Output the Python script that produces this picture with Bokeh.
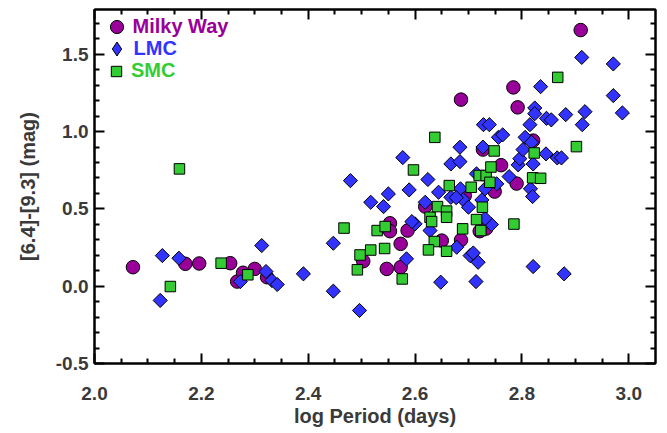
import math
from bokeh.plotting import figure
from bokeh.models import Range1d, LinearAxis, FixedTicker, Legend, LegendItem
from bokeh.embed import file_html
from bokeh.resources import INLINE

# ---- data ----
mw_logp = [2.072, 2.170, 2.196, 2.254, 2.267, 2.278, 2.300, 2.323, 2.503, 2.547,
           2.573, 2.553, 2.553, 2.586, 2.573, 2.619, 2.650, 2.686, 2.721, 2.733,
           2.693, 2.727, 2.749, 2.761, 2.790, 2.821, 2.686, 2.784, 2.792, 2.910]
mw_color = [0.123, 0.145, 0.147, 0.149, 0.030, 0.087, 0.112, 0.058, 0.162, 0.112,
            0.123, 0.407, 0.356, 0.360, 0.274, 0.515, 0.295, 0.299, 0.356, 0.373,
            0.586, 0.884, 0.612, 0.783, 0.664, 0.942, 1.207, 1.286, 1.157, 1.657]

lmc_logp = [2.127, 2.123, 2.158, 2.313, 2.273, 2.321, 2.332, 2.342, 2.391, 2.447,
            2.447, 2.496, 2.479, 2.517, 2.550, 2.541, 2.577, 2.589, 2.624, 2.619,
            2.644, 2.667, 2.684, 2.684, 2.667, 2.685, 2.690, 2.700, 2.725, 2.715,
            2.727, 2.728, 2.739, 2.731, 2.756, 2.764, 2.753, 2.776, 2.793, 2.796,
            2.806, 2.815, 2.824, 2.824, 2.835, 2.846, 2.855, 2.882, 2.913, 2.918,
            2.912, 2.971, 2.971, 2.988, 2.818, 2.802, 2.821, 2.845, 2.866, 2.874,
            2.816, 2.820, 2.600, 2.628, 2.584, 2.648, 2.678, 2.703, 2.718, 2.714,
            2.743, 2.821, 2.879, 2.594, 2.709, 2.731, 2.677]
lmc_color = [0.198, -0.092, 0.181, 0.263, 0.030, 0.095, 0.037, 0.011, 0.080, 0.278,
             -0.032, -0.157, 0.683, 0.543, 0.597, 0.515, 0.832, 0.623, 0.690, 0.543,
             0.608, 0.791, 0.899, 0.806, 0.575, 0.630, 0.560, 0.511, 0.558, 0.727,
             0.900, 1.045, 1.045, 0.630, 0.963, 0.979, 0.662, 0.709, 0.785, 0.825,
             0.963, 1.045, 1.153, 1.116, 1.291, 1.086, 1.076, 1.110, 1.045, 1.129,
             1.480, 1.438, 1.233, 1.121, 0.931, 0.884, 0.791, 0.856, 0.830, 0.830,
             0.630, 0.580, 0.403, 0.360, 0.177, 0.026, 0.252, 0.198, 0.155, 0.030,
             0.399, 0.127, 0.080, 0.418, 0.215, 0.438, 0.573]

smc_logp = [2.159, 2.142, 2.237, 2.287, 2.467, 2.497, 2.492, 2.517, 2.529, 2.544,
            2.543, 2.576, 2.628, 2.631, 2.636, 2.625, 2.659, 2.689, 2.715, 2.723,
            2.785, 2.642, 2.659, 2.659, 2.637, 2.597, 2.664, 2.705, 2.720, 2.733,
            2.740, 2.742, 2.748, 2.726, 2.823, 2.902, 2.820, 2.835, 2.867]
smc_color = [0.759, -0.002, 0.149, 0.074, 0.376, 0.202, 0.106, 0.234, 0.360, 0.386,
             0.244, 0.047, 0.446, 0.418, 0.289, 0.235, 0.226, 0.371, 0.431, 0.360,
             0.402, 0.515, 0.486, 0.446, 0.963, 0.752, 0.651, 0.640, 0.716, 0.716,
             0.672, 0.771, 0.875, 0.511, 0.862, 0.903, 0.701, 0.698, 1.351]

x_ticks = [2.0, 2.2, 2.4, 2.6, 2.8, 3.0]
x_tick_labels = ["2.0", "2.2", "2.4", "2.6", "2.8", "3.0"]
y_ticks = [-0.5, 0.0, 0.5, 1.0, 1.5]
y_tick_labels = ["-0.5", "0.0", "0.5", "1.0", "1.5"]
x_minor = [2.05, 2.10, 2.15, 2.25, 2.30, 2.35, 2.45, 2.50, 2.55, 2.65, 2.70, 2.75,
           2.85, 2.90, 2.95]
y_minor = [-0.4, -0.3, -0.2, -0.1, 0.1, 0.2, 0.3, 0.4, 0.6, 0.7, 0.8, 0.9,
           1.1, 1.2, 1.3, 1.4, 1.6, 1.7]

PURPLE = "#990099"
BLUE = "#3333ff"
GREEN = "#33cc33"
TXT = "#3a3a3a"
FONT = "Liberation Sans"

BL, BR, BT, BB = 94, 4, 9, 69
FW, FH = 561, 354
W, H = BL + FW + BR, BT + FH + BB

p = figure(width=W, height=H, output_backend="svg", toolbar_location=None,
           x_range=Range1d(2.0, 3.05), y_range=Range1d(-0.5, 1.79),
           min_border_left=BL, min_border_right=BR, min_border_top=BT,
           min_border_bottom=BB)
p.grid.visible = False
p.outline_line_color = "#000000"
p.outline_line_width = 2

xt = FixedTicker(ticks=x_ticks, minor_ticks=x_minor)
yt = FixedTicker(ticks=y_ticks, minor_ticks=y_minor)


def style_axis(ax, labels=True):
    ax.axis_line_color = "#000000"
    ax.axis_line_width = 2
    ax.major_tick_line_color = "#000000"
    ax.major_tick_line_width = 2
    ax.minor_tick_line_color = "#000000"
    ax.minor_tick_line_width = 2
    ax.major_tick_in = 10
    ax.major_tick_out = 0
    ax.minor_tick_in = 5
    ax.minor_tick_out = 0
    ax.major_label_text_font = FONT
    ax.major_label_text_font_style = "bold"
    ax.axis_label_text_font = FONT
    ax.axis_label_text_font_style = "bold"
    ax.axis_label_text_color = TXT
    ax.axis_label_text_font_size = "20px"
    if labels:
        ax.major_label_text_font_size = "19px"
        ax.major_label_text_color = TXT
    else:
        ax.major_label_text_font_size = "1px"
        ax.major_label_text_color = None
        ax.major_label_standoff = 0


xb = p.xaxis[0]
xb.ticker = xt
xb.axis_label = "log Period (days)"
xb.major_label_overrides = dict(zip(x_ticks, x_tick_labels))
style_axis(xb)
xb.major_label_standoff = 23
xb.axis_label_standoff = 2

yl = p.yaxis[0]
yl.ticker = yt
yl.axis_label = "[6.4]-[9.3] (mag)"
yl.major_label_overrides = dict(zip(y_ticks, y_tick_labels))
style_axis(yl)
yl.major_label_standoff = 6
yl.axis_label_standoff = 14

xa = LinearAxis(ticker=xt)
style_axis(xa, labels=False)
p.add_layout(xa, "above")

yr = LinearAxis(ticker=yt)
style_axis(yr, labels=False)
p.add_layout(yr, "right")

r_mw = p.scatter(mw_logp, mw_color, marker="circle", size=13.5,
                 fill_color=PURPLE, line_color="black", line_width=1)
r_lmc = p.scatter(lmc_logp, lmc_color, marker="square", angle=math.pi / 4, size=10,
                  fill_color=BLUE, line_color="black", line_width=1)
r_smc = p.scatter(smc_logp, smc_color, marker="square", size=10.5,
                  fill_color=GREEN, line_color="black", line_width=1)
# legend key for LMC: same data drawn as an (invisible) diamond marker,
# because the legend does not rotate markers
r_lmc_key = p.scatter(lmc_logp, lmc_color, marker="diamond", size=10,
                      fill_color=BLUE, line_color="black", line_width=1,
                      visible=False)


def make_legend(label, rend, color, glyph, cy_from_top, standoff):
    leg = Legend(items=[LegendItem(label=label, renderers=[rend])],
                 location=(22 - glyph / 2, FH - cy_from_top - glyph / 2),
                 glyph_width=glyph, glyph_height=glyph, label_height=20,
                 label_standoff=standoff, padding=0, margin=0, spacing=0,
                 border_line_color=None, background_fill_alpha=0,
                 inactive_fill_alpha=0,
                 label_text_font=FONT, label_text_font_style="bold",
                 label_text_font_size="20px", label_text_color=color)
    p.add_layout(leg)


make_legend("Milky Way", r_mw, PURPLE, 33, 17, 0)
make_legend("LMC", r_lmc_key, BLUE, 35, 39.3, 0)
make_legend("SMC", r_smc, GREEN, 26, 61.7, 2)

open("out.html", "w").write(file_html(p, INLINE))
